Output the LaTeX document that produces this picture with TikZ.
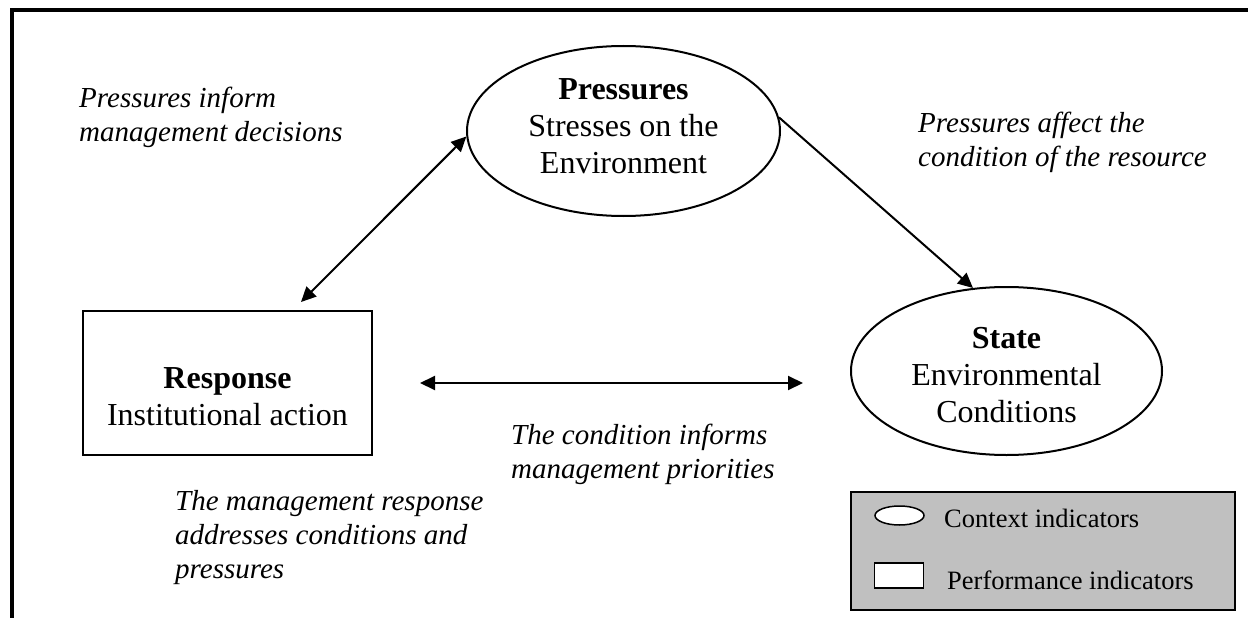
\documentclass[tikz,border=0pt]{standalone}
\usepackage{fontspec}
\setmainfont{Liberation Serif}
\usetikzlibrary{arrows.meta,shapes.geometric}
\definecolor{legendgray}{RGB}{192,192,192}
\begin{document}
\begin{tikzpicture}[x=1pt,y=-1pt,
  ctx/.style={draw, ellipse, line width=2pt, inner sep=0pt},
  perf/.style={draw, rectangle, line width=1.5pt, inner sep=0pt},
  body/.style={font=\fontsize{32}{37}\selectfont, align=center, inner sep=0pt, anchor=base},
  lbl/.style={font=\fontsize{29}{34}\selectfont\itshape, align=left, anchor=base west, inner sep=0pt},
  legtext/.style={font=\fontsize{26.5}{30}\selectfont, anchor=base west, inner sep=0pt},
  conn/.style={line width=2pt, >={Triangle[length=15pt,width=14pt]}},
  frame/.style={line width=4pt}
]
\useasboundingbox (0,0) rectangle (1248,618);
% frame
\coordinate (fb) at (11.5,620);
\coordinate (fc) at (11.5,10.5);
\coordinate (fr) at (1250,10.5);
\draw[frame] (fb) -- (fc) -- (fr);

% main shapes (text nodes anchored at the baseline of their last line)
\node[ctx, minimum width=313, minimum height=170] (P) at (623.5,131) {};
\node[body] (Pt) at (623.5,173) {\textbf{Pressures}\\Stresses on the\\Environment};
\node[ctx, minimum width=311, minimum height=168] (S) at (1006.5,371) {};
\node[body] (St) at (1006.5,422) {\textbf{State}\\Environmental\\Conditions};
\node[perf, minimum width=289, minimum height=144] (R) at (227.5,383) {};
\node[body] (Rt) at (227.5,425) {\textbf{Response}\\Institutional action};

% connectors
\coordinate (d1) at (301,302);
\draw[conn, <->] (d1) -- (P.182);
\draw[conn, ->] (P.5) -- (S.112);
\coordinate (h1) at (420,383);
\coordinate (h2) at (803,383);
\draw[conn, <->] (h1) -- (h2);

% labels
\node[lbl] (l1) at (79,141) {Pressures inform\\management decisions};
\node[lbl] (l2) at (918,166) {Pressures affect the\\condition of the resource};
\node[lbl] (l3) at (511,478) {The condition informs\\management priorities};
\node[lbl] (l4) at (175,578) {The management response\\addresses conditions and\\pressures};

% legend
\node[draw, fill=legendgray, line width=1.5pt, minimum width=384, minimum height=118, inner sep=0pt] (L) at (1043,551) {};
\node[ctx, fill=white, line width=1.5pt, minimum width=49, minimum height=19] (Le) at (899.5,515.5) {};
\node[perf, fill=white, minimum width=49, minimum height=25] (Lr) at (899,575.5) {};
\node[legtext] (Lt1) at (944,527) {Context indicators};
\node[legtext] (Lt2) at (947,589) {Performance indicators};
\end{tikzpicture}
\end{document}
